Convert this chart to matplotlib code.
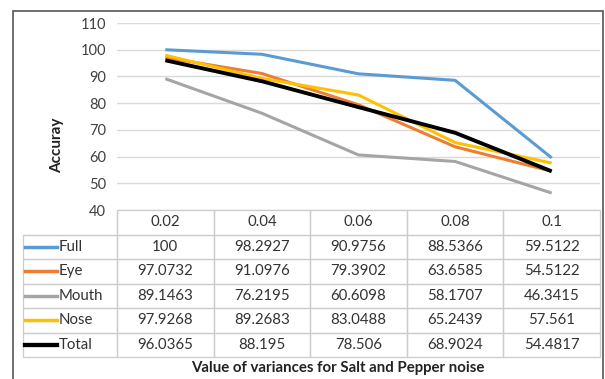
import matplotlib
matplotlib.use("Agg")
import matplotlib.pyplot as plt
from matplotlib.patches import Rectangle
from matplotlib.lines import Line2D

plt.rcParams['font.family'] = ['Lato', 'DejaVu Sans']

categories = ["0.02", "0.04", "0.06", "0.08", "0.1"]
series_names = ["Full", "Eye", "Mouth", "Nose", "Total"]
full = [100, 98.2927, 90.9756, 88.5366, 59.5122]
eye = [97.0732, 91.0976, 79.3902, 63.6585, 54.5122]
mouth = [89.1463, 76.2195, 60.6098, 58.1707, 46.3415]
nose = [97.9268, 89.2683, 83.0488, 65.2439, 57.561]
total = [96.0365, 88.195, 78.506, 68.9024, 54.4817]
values = [full, eye, mouth, nose, total]
colors = ["#5B9BD5", "#ED7D31", "#A5A5A5", "#FFC000", "#000000"]
widths = [2.2, 2.2, 2.2, 2.2, 2.8]
yticks = [40, 50, 60, 70, 80, 90, 100, 110]

W, H = 605, 379
fig = plt.figure(figsize=(W / 100, H / 100), dpi=100)
fig.patch.set_facecolor("white")

# outer border
fig.patches.append(Rectangle((13 / W, -0.01), (603 - 13) / W, 1 - 11 / H + 0.01,
                             transform=fig.transFigure, fill=False,
                             edgecolor="#555555", linewidth=1.2))

x0, x1 = 117, 600
ytop, ybot = 23, 210
ax = fig.add_axes([x0 / W, 1 - ybot / H, (x1 - x0) / W, (ybot - ytop) / H])
ax.set_facecolor("none")

xs = list(range(len(categories)))
for name, vals, c, lw in zip(series_names, values, colors, widths):
    ax.plot(xs, vals, color=c, linewidth=lw, solid_capstyle="butt", zorder=3)

ax.set_xlim(-0.5, len(categories) - 0.5)
ax.set_ylim(40, 110)
ax.set_yticks(yticks)
ax.set_yticklabels([str(t) for t in yticks], fontsize=10.5, color="#404040")
ax.set_xticks([])
ax.tick_params(axis="y", length=0, pad=8)
ax.grid(axis="y", color="#D9D9D9", linewidth=1.0)
ax.set_axisbelow(True)
for s in ax.spines.values():
    s.set_visible(False)

fig.text(57 / W, 1 - 145 / H, "Accuray", rotation=90, ha="center", va="center",
         fontsize=11, fontweight="bold", color="#222222")

# table
row_h = 24.5
label_left = 23
n_rows = len(series_names) + 1
tab_top = ybot
tab_bot = tab_top + row_h * n_rows
axpx_w = x1 - x0
axpx_h = ybot - ytop
bbox = [(label_left - x0) / axpx_w, -(tab_bot - ybot) / axpx_h,
        (x1 - label_left) / axpx_w, (tab_bot - tab_top) / axpx_h]

def fmt(v):
    return ("%g" % v)

cell_text = [[""] + categories]
for name, vals in zip(series_names, values):
    cell_text.append([""] + [fmt(v) for v in vals])

lab_w = x0 - label_left
col_w = (x1 - x0) / len(categories)
tbl = ax.table(cellText=cell_text, bbox=bbox, cellLoc="center",
               colWidths=[lab_w] + [col_w] * len(categories))
tbl.auto_set_font_size(False)
for (r, c), cell in tbl.get_celld().items():
    cell.set_edgecolor("#CCCCCC")
    cell.set_linewidth(0.9)
    cell.get_text().set_fontsize(10.8)
    cell.get_text().set_color("#333333")
    cell.set_facecolor("none")
    if r == 0 and c == 0:
        cell.visible_edges = "BR"

# legend glyphs and names in row label cells
for i, (name, c, lw) in enumerate(zip(series_names, colors, widths)):
    yc = tab_top + row_h * (i + 1.5)
    fig.add_artist(Line2D([25 / W, 57 / W], [1 - yc / H, 1 - yc / H],
                          transform=fig.transFigure, color=c, linewidth=lw + 0.3))
    fig.text(59 / W, 1 - yc / H, name, ha="left", va="center",
             fontsize=10.8, color="#333333")

fig.text(338 / W, 1 - 368 / H, "Value of variances for Salt and Pepper noise",
         ha="center", va="center", fontsize=10.8, fontweight="bold", color="#222222")

fig.savefig("out.png", dpi=100)
